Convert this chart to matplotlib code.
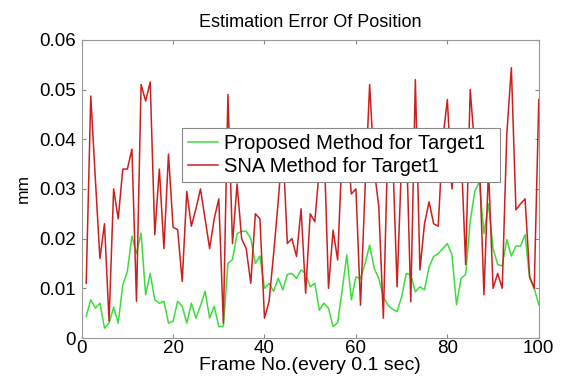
import matplotlib

matplotlib.use("Agg")
import matplotlib.pyplot as plt
import numpy as np

plt.rcParams["font.family"] = ["Liberation Sans", "DejaVu Sans"]

# frame index 1..100, error in mm
frames = np.arange(1, 101)

proposed = [
    0.0044, 0.0077, 0.0060, 0.0070, 0.0020, 0.0030, 0.0062, 0.0030, 0.0107, 0.0134,
    0.0205, 0.0170, 0.0211, 0.0087, 0.0130, 0.0077, 0.0070, 0.0074, 0.0030, 0.0034,
    0.0074, 0.0064, 0.0030, 0.0070, 0.0040, 0.0065, 0.0094, 0.0040, 0.0064, 0.0023,
    0.0023, 0.0150, 0.0158, 0.0210, 0.0215, 0.0215, 0.0200, 0.0150, 0.0165, 0.0100,
    0.0110, 0.0094, 0.0120, 0.0097, 0.0128, 0.0130, 0.0120, 0.0137, 0.0130, 0.0103,
    0.0110, 0.0056, 0.0070, 0.0060, 0.0023, 0.0031, 0.0097, 0.0167, 0.0077, 0.0123,
    0.0120, 0.0150, 0.0187, 0.0140, 0.0120, 0.0083, 0.0066, 0.0058, 0.0053, 0.0083,
    0.0130, 0.0127, 0.0093, 0.0103, 0.0097, 0.0143, 0.0164, 0.0170, 0.0180, 0.0190,
    0.0168, 0.0067, 0.0120, 0.0128, 0.0235, 0.0295, 0.0315, 0.0210, 0.0270, 0.0180,
    0.0148, 0.0145, 0.0198, 0.0165, 0.0185, 0.0185, 0.0208, 0.0120, 0.0100, 0.0067,
]

sna = [
    0.0110, 0.0487, 0.0320, 0.0160, 0.0230, 0.0034, 0.0300, 0.0240, 0.0340, 0.0340,
    0.0380, 0.0074, 0.0510, 0.0477, 0.0515, 0.0208, 0.0340, 0.0180, 0.0370, 0.0223,
    0.0218, 0.0114, 0.0295, 0.0225, 0.0260, 0.0300, 0.0240, 0.0180, 0.0240, 0.0280,
    0.0030, 0.0490, 0.0190, 0.0310, 0.0200, 0.0180, 0.0110, 0.0250, 0.0240, 0.0040,
    0.0074, 0.0170, 0.0275, 0.0390, 0.0190, 0.0200, 0.0164, 0.0260, 0.0090, 0.0250,
    0.0234, 0.0340, 0.0400, 0.0100, 0.0217, 0.0157, 0.0380, 0.0400, 0.0290, 0.0300,
    0.0066, 0.0300, 0.0510, 0.0340, 0.0264, 0.0040, 0.0400, 0.0380, 0.0103, 0.0360,
    0.0410, 0.0073, 0.0520, 0.0137, 0.0230, 0.0274, 0.0230, 0.0225, 0.0400, 0.0480,
    0.0300, 0.0400, 0.0380, 0.0148, 0.0500, 0.0380, 0.0360, 0.0087, 0.0340, 0.0100,
    0.0130, 0.0100, 0.0410, 0.0544, 0.0258, 0.0270, 0.0280, 0.0124, 0.0100, 0.0480,
]

x_ticks = [0, 20, 40, 60, 80, 100]
y_ticks = [0, 0.01, 0.02, 0.03, 0.04, 0.05, 0.06]
y_labels = ["0", "0.01", "0.02", "0.03", "0.04", "0.05", "0.06"]

fig = plt.figure(figsize=(5.63, 3.76), dpi=100)
ax = fig.add_axes([0.145, 0.101, 0.812, 0.793])

ax.plot(frames, proposed, "-", lw=1.1, color="#3ddc3d", label="Proposed Method for Target1")
ax.plot(frames, sna, "-", lw=1.1, color="#cc1f1f", label="SNA Method for Target1")

ax.set_xlim(0, 100)
ax.set_ylim(0, 0.06)
ax.set_xticks(x_ticks)
ax.set_yticks(y_ticks)
ax.set_yticklabels(y_labels)
ax.tick_params(direction="in", length=3, color="#888888", labelsize=13.5,
               top=True, right=True)
ax.tick_params(axis="x", pad=1.5)
ax.tick_params(axis="y", pad=4)
for s in ax.spines.values():
    s.set_color("#999999")
    s.set_linewidth(0.8)

ax.set_title("Estimation Error Of Position", fontsize=13, pad=9)
ax.set_xlabel("Frame No.(every 0.1 sec)", fontsize=14, labelpad=0)
ax.set_ylabel("mm", fontsize=12.5, labelpad=6)

leg = ax.legend(loc="lower left", bbox_to_anchor=(0.219, 0.523, 0.696, 0.219),
                mode="expand", fontsize=14.5, fancybox=False, framealpha=1,
                edgecolor="#888888", handlelength=1.5, handletextpad=0.3,
                borderaxespad=0, borderpad=0.3, labelspacing=0.2)
leg.get_frame().set_linewidth(0.8)

fig.savefig("out.png", dpi=100)
